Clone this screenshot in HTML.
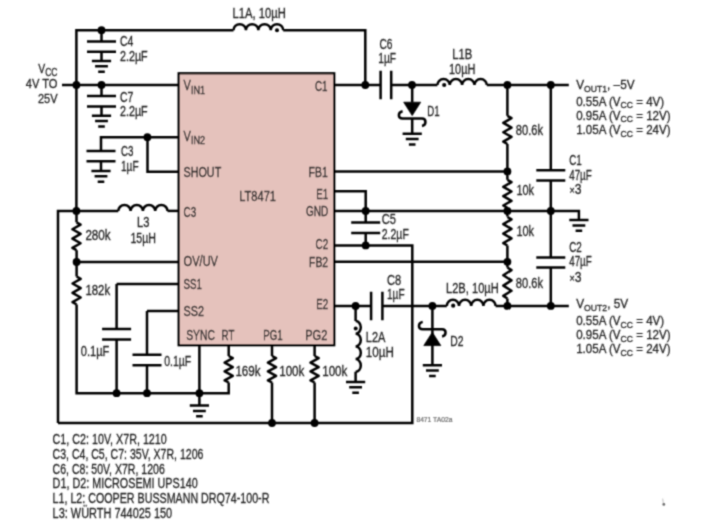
<!DOCTYPE html>
<html><head><meta charset="utf-8"><style>
html,body{margin:0;padding:0;background:#fff;}
svg{display:block;}
.w path,.w circle{fill:none;stroke:#050505;stroke-width:2.5;stroke-linecap:butt;}
.w .f{fill:#050505;stroke:none;}
.w path.f{stroke:#050505;stroke-width:0.8;}
text{font-family:"Liberation Sans",sans-serif;fill:#242424;stroke:#242424;stroke-width:0.3px;}
</style></head><body>
<svg width="709" height="529" viewBox="0 0 709 529">
<defs><filter id="bl" x="0" y="0" width="709" height="529" filterUnits="userSpaceOnUse"><feConvolveMatrix order="3" kernelMatrix="0.04 0.12 0.04 0.12 0.36 0.12 0.04 0.12 0.04" edgeMode="duplicate"/></filter></defs>
<rect width="709" height="529" fill="#fff"/>
<g filter="url(#bl)">
<g class="w">
<rect x="178.7" y="73.3" width="155.5" height="271.9" fill="#e5c2bc" stroke="#050505" stroke-width="2.3"/>
<path d="M76.4,211V30.2H233.5" />
<path d="M233.5,30.2 a6.212499999999999,6 0 0 1 12.424999999999997,0 a6.212499999999999,6 0 0 1 12.424999999999997,0 a6.212499999999999,6 0 0 1 12.424999999999997,0 a6.212499999999999,6 0 0 1 12.424999999999997,0" />
<circle cx="277" cy="30.2" r="2" class="f"/>
<path d="M283.2,30.2H365.3V85" />
<path d="M62,85H178.8" />
<circle cx="76.4" cy="85" r="3.9" class="f"/>
<circle cx="101.5" cy="30.2" r="3.9" class="f"/>
<circle cx="101.5" cy="85" r="3.9" class="f"/>
<path d="M101.5,30.2V41.5" />
<path d="M87.0,41.5H116.0M87.0,51.7H116.0" />
<path d="M101.5,51.7V61M91.9,61H111.1M95.1,66.3H107.9M98.2,71.7H104.8" />
<path d="M101.5,85V96.1" />
<path d="M87.0,96.1H116.0M87.0,106.5H116.0" />
<path d="M101.5,106.5V115.8M91.9,115.8H111.1M95.1,121.1H107.9M98.2,126.5H104.8" />
<path d="M101,151V137.2H178.8" />
<path d="M147.5,137.2V171.7H178.8" />
<circle cx="147.4" cy="137.2" r="3.9" class="f"/>
<path d="M86.5,151H115.5M86.5,161.3H115.5" />
<path d="M101,161.3V171M91.4,171H110.6M94.6,176.3H107.4M97.7,181.7H104.3" />
<path d="M58,423.0V210.9H118.3" />
<path d="M118.3,210.9 a6.15,5.9 0 0 1 12.3,0 a6.15,5.9 0 0 1 12.3,0 a6.15,5.9 0 0 1 12.3,0 a6.15,5.9 0 0 1 12.3,0" />
<path d="M167.5,210.9H178.8" />
<circle cx="76.4" cy="210.9" r="3.9" class="f"/>
<path d="M76.5,210.9V222.3" />
<path d="M76.50,222.30 L80.60,224.62 L72.40,229.28 L80.60,233.93 L72.40,238.57 L80.60,243.22 L72.40,247.88 L76.50,250.20" stroke-linejoin="round"/>
<path d="M76.6,250.2V276.5" />
<circle cx="76.6" cy="262" r="3.9" class="f"/>
<path d="M76.6,262H178.8" />
<path d="M76.60,276.50 L80.70,278.83 L72.50,283.50 L80.70,288.17 L72.50,292.83 L80.70,297.50 L72.50,302.17 L76.60,304.50" stroke-linejoin="round"/>
<path d="M76.6,304.5V393.2H228.7V382.5" />
<path d="M116.6,284H178.8M116.6,284V329" />
<path d="M102.1,329H131.1M102.1,339.6H131.1" />
<path d="M116.6,339.6V393.2" />
<circle cx="116.6" cy="393.2" r="3.9" class="f"/>
<path d="M147,311H178.8M147,311V354.7" />
<path d="M132.5,354.7H161.5M132.5,365.2H161.5" />
<path d="M147,365.2V393.2" />
<circle cx="147" cy="393.2" r="3.9" class="f"/>
<path d="M199.4,345V393.2" />
<circle cx="199.4" cy="393.2" r="3.9" class="f"/>
<path d="M199.4,393.2V405.6M189.8,405.6H209.0M193.0,410.90000000000003H205.8M196.1,416.3H202.70000000000002" />
<path d="M228.7,344.7V356" />
<path d="M228.70,356.00 L232.80,358.21 L224.60,362.62 L232.80,367.04 L224.60,371.46 L232.80,375.88 L224.60,380.29 L228.70,382.50" stroke-linejoin="round"/>
<path d="M272,344.7V356" />
<path d="M272.00,356.00 L276.10,358.21 L267.90,362.62 L276.10,367.04 L267.90,371.46 L276.10,375.88 L267.90,380.29 L272.00,382.50" stroke-linejoin="round"/>
<path d="M272,382.5V423.0" />
<circle cx="272" cy="423.0" r="3.9" class="f"/>
<path d="M314.6,344.7V356" />
<path d="M314.60,356.00 L318.70,358.21 L310.50,362.62 L318.70,367.04 L310.50,371.46 L318.70,375.88 L310.50,380.29 L314.60,382.50" stroke-linejoin="round"/>
<path d="M314.6,382.5V423.0" />
<circle cx="314.6" cy="423.0" r="3.9" class="f"/>
<path d="M58,423.0H412.3V245.4H333.5" />
<path d="M333.5,85H380.6" />
<path d="M380.6,70.75V99.25M391.2,70.75V99.25" />
<path d="M391.2,85H437.4" />
<circle cx="365.3" cy="85" r="3.9" class="f"/>
<circle cx="412" cy="85" r="3.9" class="f"/>
<path d="M437.4,85 a6.175000000000004,5.9 0 0 1 12.350000000000009,0 a6.175000000000004,5.9 0 0 1 12.350000000000009,0 a6.175000000000004,5.9 0 0 1 12.350000000000009,0 a6.175000000000004,5.9 0 0 1 12.350000000000009,0" />
<circle cx="444.2" cy="85" r="2.1" class="f"/>
<path d="M486.8,85H568.8" />
<circle cx="507.4" cy="85" r="3.9" class="f"/>
<circle cx="550.8" cy="85" r="3.9" class="f"/>
<path d="M412.2,85V102.5" />
<path d="M403.7,102.2H420.7L412.2,115.6Z" class="f" stroke-width="1"/>
<path d="M402.60,111.30 C397.60,112.40 397.60,118.60 402.60,118.60 H422.00 C426.60,118.60 426.60,125.20 422.00,126.00" />
<path d="M412.2,118.6V133.8M402.59999999999997,133.8H421.8M405.8,139.10000000000002H418.59999999999997M408.9,144.5H415.5" />
<path d="M333.5,171.4H507.4" />
<circle cx="507.4" cy="171.4" r="3.9" class="f"/>
<path d="M333.5,191.2H365.7V222.6" />
<path d="M351.2,222.6H380.2M351.2,233.0H380.2" />
<path d="M365.7,233.1V245.4" />
<circle cx="365.7" cy="245.4" r="3.9" class="f"/>
<circle cx="365.7" cy="211" r="3.9" class="f"/>
<path d="M333.5,211.1H578.9V220.1" />
<path d="M569.3,220.1H588.5M572.5,225.4H585.3M575.6,230.79999999999998H582.1999999999999" />
<circle cx="507.4" cy="211" r="3.9" class="f"/>
<circle cx="550.8" cy="211" r="3.9" class="f"/>
<path d="M333.5,261.8H507.4" />
<circle cx="507.4" cy="261.8" r="3.9" class="f"/>
<path d="M507.4,85V115.8" />
<path d="M507.40,115.80 L511.50,118.15 L503.30,122.85 L511.50,127.55 L503.30,132.25 L511.50,136.95 L503.30,141.65 L507.40,144.00" stroke-linejoin="round"/>
<path d="M507.4,144V179.8" />
<path d="M507.40,179.80 L511.50,182.13 L503.30,186.80 L511.50,191.47 L503.30,196.13 L511.50,200.80 L503.30,205.47 L507.40,207.80" stroke-linejoin="round"/>
<path d="M507.4,207.8V216.6" />
<path d="M507.40,217.00 L511.50,219.38 L503.30,224.12 L511.50,228.88 L503.30,233.62 L511.50,238.38 L503.30,243.12 L507.40,245.50" stroke-linejoin="round"/>
<path d="M507.4,245.5V267.5" />
<path d="M507.40,267.50 L511.50,270.08 L503.30,275.25 L511.50,280.42 L503.30,285.58 L511.50,290.75 L503.30,295.92 L507.40,298.50" stroke-linejoin="round"/>
<path d="M507.4,298.5V305.9" />
<path d="M550.8,85V170.2" />
<path d="M536.3,170.2H565.3M536.3,180.6H565.3" />
<path d="M550.8,180.6V257.6" />
<path d="M536.3,257.6H565.3M536.3,267.4H565.3" />
<path d="M550.8,267.4V305.9" />
<path d="M333.5,305.9H371.1" />
<path d="M371.1,291.65V320.15M382.4,291.65V320.15" />
<path d="M382.4,305.9H446.8" />
<path d="M446.8,305.9 a6.100000000000001,6.2 0 0 1 12.200000000000003,0 a6.100000000000001,6.2 0 0 1 12.200000000000003,0 a6.100000000000001,6.2 0 0 1 12.200000000000003,0 a6.100000000000001,6.2 0 0 1 12.200000000000003,0" />
<circle cx="453.2" cy="305.7" r="2.1" class="f"/>
<path d="M495.6,305.9H568.8" />
<circle cx="355.6" cy="305.9" r="3.9" class="f"/>
<circle cx="432.4" cy="305.9" r="3.9" class="f"/>
<circle cx="507.4" cy="305.9" r="3.9" class="f"/>
<circle cx="550.8" cy="305.9" r="3.9" class="f"/>
<path d="M355.6,305.9V321" />
<path d="M355.6,321 a5.2,6.350000000000001 0 0 1 0,12.700000000000003 a5.2,6.350000000000001 0 0 1 0,12.700000000000003 a5.2,6.350000000000001 0 0 1 0,12.700000000000003 a5.2,6.350000000000001 0 0 1 0,12.700000000000003" />
<circle cx="355.7" cy="328.6" r="2.0" class="f"/>
<path d="M355.6,371.8V382" />
<path d="M346.0,382.0H365.20000000000005M349.20000000000005,387.3H362.0M352.3,392.7H358.90000000000003" />
<path d="M432.4,305.9V346" />
<path d="M422.70,321.90 C417.70,323.00 417.70,329.20 422.70,329.20 H442.10 C446.70,329.20 446.70,335.80 442.10,336.60" />
<path d="M423.8,345.6H440.8L432.3,332.3Z" class="f" stroke-width="1"/>
<path d="M432.4,346V365.2M422.79999999999995,365.2H442.0M426.0,370.5H438.79999999999995M429.09999999999997,375.9H435.7" />
</g>
<g>
<text x="57.5" y="72.7" text-anchor="end" font-size="13.2" textLength="19.2" lengthAdjust="spacingAndGlyphs">V<tspan font-size="10.8" dy="3.2">CC</tspan></text>
<text x="57.5" y="87.8" text-anchor="end" font-size="13.6" textLength="31.8" lengthAdjust="spacingAndGlyphs">4V TO</text>
<text x="57.5" y="102.8" text-anchor="end" font-size="13.6" textLength="19.6" lengthAdjust="spacingAndGlyphs">25V</text>
<text x="119.9" y="46.3" text-anchor="start" font-size="14.2" textLength="13.4" lengthAdjust="spacingAndGlyphs">C4</text>
<text x="119.9" y="60.7" text-anchor="start" font-size="14.2" textLength="27.8" lengthAdjust="spacingAndGlyphs">2.2µF</text>
<text x="119.9" y="101.7" text-anchor="start" font-size="14.2" textLength="13.4" lengthAdjust="spacingAndGlyphs">C7</text>
<text x="119.9" y="116.1" text-anchor="start" font-size="14.2" textLength="27.8" lengthAdjust="spacingAndGlyphs">2.2µF</text>
<text x="121.0" y="155.8" text-anchor="start" font-size="14.2" textLength="12.4" lengthAdjust="spacingAndGlyphs">C3</text>
<text x="121.0" y="170.7" text-anchor="start" font-size="14.2" textLength="17.6" lengthAdjust="spacingAndGlyphs">1µF</text>
<text x="143.2" y="227.3" text-anchor="middle" font-size="14.2" textLength="12.4" lengthAdjust="spacingAndGlyphs">L3</text>
<text x="143.2" y="242.8" text-anchor="middle" font-size="14.2" textLength="25.6" lengthAdjust="spacingAndGlyphs">15µH</text>
<text x="85.4" y="239.8" text-anchor="start" font-size="14.2" textLength="25.2" lengthAdjust="spacingAndGlyphs">280k</text>
<text x="85.4" y="295.0" text-anchor="start" font-size="14.2" textLength="24.8" lengthAdjust="spacingAndGlyphs">182k</text>
<text x="80.8" y="356.4" text-anchor="start" font-size="14.2" textLength="28.6" lengthAdjust="spacingAndGlyphs">0.1µF</text>
<text x="164.2" y="365.6" text-anchor="start" font-size="14.2" textLength="27.0" lengthAdjust="spacingAndGlyphs">0.1µF</text>
<text x="235.4" y="376.0" text-anchor="start" font-size="14.2" textLength="25.2" lengthAdjust="spacingAndGlyphs">169k</text>
<text x="279.2" y="376.0" text-anchor="start" font-size="14.2" textLength="25.2" lengthAdjust="spacingAndGlyphs">100k</text>
<text x="322.2" y="376.0" text-anchor="start" font-size="14.2" textLength="25.2" lengthAdjust="spacingAndGlyphs">100k</text>
<text x="183.6" y="90.3" text-anchor="start" font-size="14.2" textLength="21.6" lengthAdjust="spacingAndGlyphs">V<tspan font-size="11.8" dy="3.6">IN1</tspan></text>
<text x="327.6" y="91.3" text-anchor="end" font-size="14.2" textLength="12.6" lengthAdjust="spacingAndGlyphs">C1</text>
<text x="183.6" y="140.6" text-anchor="start" font-size="14.2" textLength="21.6" lengthAdjust="spacingAndGlyphs">V<tspan font-size="11.8" dy="3.6">IN2</tspan></text>
<text x="183.6" y="177.4" text-anchor="start" font-size="14.2" textLength="37.6" lengthAdjust="spacingAndGlyphs">SHOUT</text>
<text x="327.8" y="177.4" text-anchor="end" font-size="14.2" textLength="19.2" lengthAdjust="spacingAndGlyphs">FB1</text>
<text x="328.2" y="198.7" text-anchor="end" font-size="14.2" textLength="12.0" lengthAdjust="spacingAndGlyphs">E1</text>
<text x="239.2" y="201.0" text-anchor="start" font-size="14.2" textLength="36.8" lengthAdjust="spacingAndGlyphs">LT8471</text>
<text x="328.2" y="216.2" text-anchor="end" font-size="14.2" textLength="22.2" lengthAdjust="spacingAndGlyphs">GND</text>
<text x="183.6" y="216.9" text-anchor="start" font-size="14.2" textLength="12.6" lengthAdjust="spacingAndGlyphs">C3</text>
<text x="328.2" y="249.3" text-anchor="end" font-size="14.2" textLength="12.6" lengthAdjust="spacingAndGlyphs">C2</text>
<text x="328.2" y="267.0" text-anchor="end" font-size="14.2" textLength="19.2" lengthAdjust="spacingAndGlyphs">FB2</text>
<text x="183.6" y="266.2" text-anchor="start" font-size="14.2" textLength="34.4" lengthAdjust="spacingAndGlyphs">OV/UV</text>
<text x="183.6" y="289.4" text-anchor="start" font-size="14.2" textLength="18.4" lengthAdjust="spacingAndGlyphs">SS1</text>
<text x="183.6" y="315.8" text-anchor="start" font-size="14.2" textLength="20.4" lengthAdjust="spacingAndGlyphs">SS2</text>
<text x="328.2" y="309.4" text-anchor="end" font-size="14.2" textLength="12.0" lengthAdjust="spacingAndGlyphs">E2</text>
<text x="186.2" y="340.0" text-anchor="start" font-size="14.2" textLength="28.8" lengthAdjust="spacingAndGlyphs">SYNC</text>
<text x="221.6" y="340.0" text-anchor="start" font-size="14.2" textLength="12.8" lengthAdjust="spacingAndGlyphs">RT</text>
<text x="263.2" y="340.0" text-anchor="start" font-size="14.2" textLength="19.4" lengthAdjust="spacingAndGlyphs">PG1</text>
<text x="305.2" y="340.0" text-anchor="start" font-size="14.2" textLength="22.2" lengthAdjust="spacingAndGlyphs">PG2</text>
<text x="232.6" y="18.4" text-anchor="start" font-size="14.2" textLength="53.2" lengthAdjust="spacingAndGlyphs">L1A, 10µH</text>
<text x="385.9" y="49.2" text-anchor="middle" font-size="14.2" textLength="13.0" lengthAdjust="spacingAndGlyphs">C6</text>
<text x="387.2" y="63.4" text-anchor="middle" font-size="14.2" textLength="17.8" lengthAdjust="spacingAndGlyphs">1µF</text>
<text x="462.2" y="58.9" text-anchor="middle" font-size="14.2" textLength="20.0" lengthAdjust="spacingAndGlyphs">L1B</text>
<text x="462.2" y="73.6" text-anchor="middle" font-size="14.2" textLength="26.4" lengthAdjust="spacingAndGlyphs">10µH</text>
<text x="427.2" y="116.4" text-anchor="start" font-size="14.2" textLength="12.4" lengthAdjust="spacingAndGlyphs">D1</text>
<text x="576.2" y="89.2" text-anchor="start" font-size="13.4" textLength="58.4" lengthAdjust="spacingAndGlyphs">V<tspan font-size="9.8" dy="2.6">OUT1</tspan><tspan dy="-2.6">, –5V</tspan></text>
<text x="576.2" y="105.6" text-anchor="start" font-size="13.2" textLength="88.0" lengthAdjust="spacingAndGlyphs">0.55A (V<tspan font-size="9.8" dy="2.8">CC</tspan><tspan dy="-2.8"> = 4V)</tspan></text>
<text x="576.2" y="119.6" text-anchor="start" font-size="13.2" textLength="94.4" lengthAdjust="spacingAndGlyphs">0.95A (V<tspan font-size="9.8" dy="2.8">CC</tspan><tspan dy="-2.8"> = 12V)</tspan></text>
<text x="576.2" y="134.3" text-anchor="start" font-size="13.2" textLength="94.4" lengthAdjust="spacingAndGlyphs">1.05A (V<tspan font-size="9.8" dy="2.8">CC</tspan><tspan dy="-2.8"> = 24V)</tspan></text>
<text x="515.8" y="134.5" text-anchor="start" font-size="14.2" textLength="27.2" lengthAdjust="spacingAndGlyphs">80.6k</text>
<text x="569.2" y="165.2" text-anchor="start" font-size="14.2" textLength="12.6" lengthAdjust="spacingAndGlyphs">C1</text>
<text x="569.2" y="179.8" text-anchor="start" font-size="14.2" textLength="22.6" lengthAdjust="spacingAndGlyphs">47µF</text>
<text x="569.6" y="194.2" text-anchor="start" font-size="14.2" textLength="12.0" lengthAdjust="spacingAndGlyphs"><tspan font-size="10.5">×</tspan>3</text>
<text x="516.4" y="194.8" text-anchor="start" font-size="14.2" textLength="17.6" lengthAdjust="spacingAndGlyphs">10k</text>
<text x="516.4" y="235.8" text-anchor="start" font-size="14.2" textLength="17.6" lengthAdjust="spacingAndGlyphs">10k</text>
<text x="569.2" y="252.0" text-anchor="start" font-size="14.2" textLength="12.6" lengthAdjust="spacingAndGlyphs">C2</text>
<text x="569.2" y="266.4" text-anchor="start" font-size="14.2" textLength="22.6" lengthAdjust="spacingAndGlyphs">47µF</text>
<text x="569.6" y="282.0" text-anchor="start" font-size="14.2" textLength="12.0" lengthAdjust="spacingAndGlyphs"><tspan font-size="10.5">×</tspan>3</text>
<text x="381.8" y="224.4" text-anchor="start" font-size="14.2" textLength="14.2" lengthAdjust="spacingAndGlyphs">C5</text>
<text x="381.8" y="238.9" text-anchor="start" font-size="14.2" textLength="27.0" lengthAdjust="spacingAndGlyphs">2.2µF</text>
<text x="387.0" y="284.6" text-anchor="start" font-size="14.2" textLength="14.2" lengthAdjust="spacingAndGlyphs">C8</text>
<text x="387.0" y="298.8" text-anchor="start" font-size="14.2" textLength="17.6" lengthAdjust="spacingAndGlyphs">1µF</text>
<text x="365.8" y="342.0" text-anchor="start" font-size="14.2" textLength="19.6" lengthAdjust="spacingAndGlyphs">L2A</text>
<text x="365.8" y="356.5" text-anchor="start" font-size="14.2" textLength="28.0" lengthAdjust="spacingAndGlyphs">10µH</text>
<text x="450.2" y="346.0" text-anchor="start" font-size="14.2" textLength="13.2" lengthAdjust="spacingAndGlyphs">D2</text>
<text x="446.0" y="293.1" text-anchor="start" font-size="14.2" textLength="52.8" lengthAdjust="spacingAndGlyphs">L2B, 10µH</text>
<text x="515.8" y="288.3" text-anchor="start" font-size="14.2" textLength="27.2" lengthAdjust="spacingAndGlyphs">80.6k</text>
<text x="576.2" y="308.2" text-anchor="start" font-size="13.4" textLength="52.0" lengthAdjust="spacingAndGlyphs">V<tspan font-size="9.8" dy="2.6">OUT2</tspan><tspan dy="-2.6">, 5V</tspan></text>
<text x="576.2" y="324.8" text-anchor="start" font-size="13.2" textLength="88.0" lengthAdjust="spacingAndGlyphs">0.55A (V<tspan font-size="9.8" dy="2.8">CC</tspan><tspan dy="-2.8"> = 4V)</tspan></text>
<text x="576.2" y="338.9" text-anchor="start" font-size="13.2" textLength="94.4" lengthAdjust="spacingAndGlyphs">0.95A (V<tspan font-size="9.8" dy="2.8">CC</tspan><tspan dy="-2.8"> = 12V)</tspan></text>
<text x="576.2" y="353.4" text-anchor="start" font-size="13.2" textLength="94.4" lengthAdjust="spacingAndGlyphs">1.05A (V<tspan font-size="9.8" dy="2.8">CC</tspan><tspan dy="-2.8"> = 24V)</tspan></text>
<text x="52.6" y="443.8" text-anchor="start" font-size="14.2" textLength="114.2" lengthAdjust="spacingAndGlyphs">C1, C2: 10V, X7R, 1210</text>
<text x="52.6" y="458.65" text-anchor="start" font-size="14.2" textLength="150.8" lengthAdjust="spacingAndGlyphs">C3, C4, C5, C7: 35V, X7R, 1206</text>
<text x="52.6" y="473.5" text-anchor="start" font-size="14.2" textLength="112.2" lengthAdjust="spacingAndGlyphs">C6, C8: 50V, X7R, 1206</text>
<text x="52.6" y="488.35" text-anchor="start" font-size="14.2" textLength="145.2" lengthAdjust="spacingAndGlyphs">D1, D2: MICROSEMI UPS140</text>
<text x="52.6" y="503.2" text-anchor="start" font-size="14.2" textLength="216.8" lengthAdjust="spacingAndGlyphs">L1, L2: COOPER BUSSMANN DRQ74-100-R</text>
<text x="52.6" y="518.05" text-anchor="start" font-size="14.2" textLength="119.6" lengthAdjust="spacingAndGlyphs">L3: WÜRTH 744025 150</text>
<text x="416.4" y="421.9" text-anchor="start" font-size="7.2" textLength="36" lengthAdjust="spacingAndGlyphs" style="fill:#6a6a6a;stroke:#6a6a6a;stroke-width:0.2px">8471 TA02a</text>
</g>
<path d="M662.7,498.6L663.4,503.6" stroke="#bbb" stroke-width="0.9" fill="none"/><circle cx="663.8" cy="504.4" r="1.4" fill="#6a6a6a"/>
</g>
</svg>
</body></html>
